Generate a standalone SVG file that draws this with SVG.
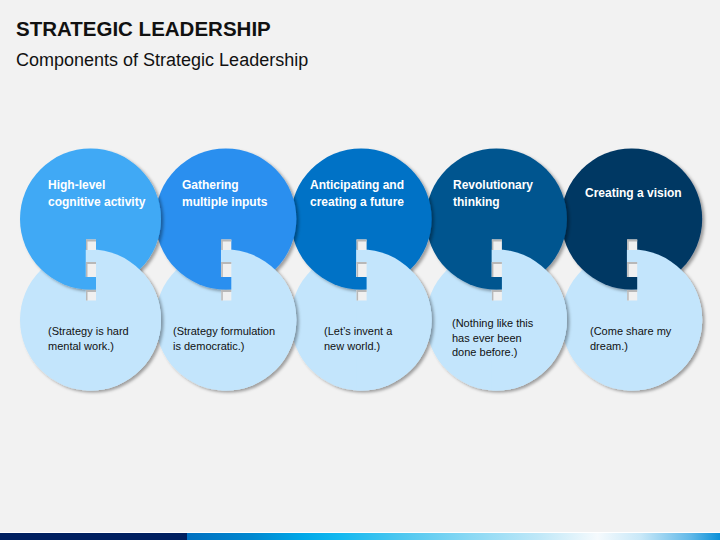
<svg xmlns="http://www.w3.org/2000/svg" width="720" height="540" viewBox="0 0 720 540">
<style>
.title{font-family:"Liberation Sans",Arial,sans-serif;font-weight:bold;font-size:20.5px;fill:#111}
.sub{font-family:"Liberation Sans",Arial,sans-serif;font-size:18px;fill:#111}
.h{font-family:"Liberation Sans",Arial,sans-serif;font-weight:bold;font-size:12px;fill:#ffffff}
.b{font-family:"Liberation Sans",Arial,sans-serif;font-size:11px;fill:#111}
.low{fill:#c3e5fc}
.gap{fill:#f0f0f0}
.gapt{fill:#b8b8b8}
</style>
<defs>
<filter id="sh" x="-20%" y="-20%" width="140%" height="140%">
<feDropShadow dx="2.5" dy="2" stdDeviation="1.8" flood-color="#000" flood-opacity="0.35"/>
</filter>
<clipPath id="rh" clipPathUnits="userSpaceOnUse">
<path d="M-5,240 H80 V400 H-5 V290 H5.5 V277 H-5 Z"/>
</clipPath>
<linearGradient id="bar" x1="0" y1="0" x2="720" y2="0" gradientUnits="userSpaceOnUse">
<stop offset="0.26" stop-color="#0070c0"/>
<stop offset="0.35" stop-color="#0088d0"/>
<stop offset="0.42" stop-color="#00a8e8"/>
<stop offset="0.47" stop-color="#12b8f0"/>
<stop offset="0.56" stop-color="#50c8f0"/>
<stop offset="0.65" stop-color="#88d8f4"/>
<stop offset="0.75" stop-color="#c0e8f8"/>
<stop offset="0.83" stop-color="#f5fafd"/>
<stop offset="0.89" stop-color="#c8e8f8"/>
<stop offset="0.96" stop-color="#60b8e8"/>
<stop offset="1" stop-color="#0a90d8"/>
</linearGradient>
<g id="gaps">
<rect class="gap" x="-4.5" y="239.5" width="10" height="10.5"/>
<rect class="gapt" x="-4.5" y="239.5" width="10" height="2"/>
<rect class="gapt" x="-4.5" y="239.5" width="1.5" height="10.5"/>
<rect class="gap" x="-4.5" y="262" width="10" height="15"/>
<rect class="gapt" x="-4.5" y="262" width="10" height="2"/>
<rect class="gapt" x="-4.5" y="262" width="1.5" height="15"/>
<rect class="gap" x="-4.5" y="290" width="10" height="10.5"/>
<rect class="gapt" x="-4.5" y="290" width="10" height="2"/>
<rect class="gapt" x="-4.5" y="290" width="1.5" height="10.5"/>
</g>
</defs>
<rect width="720" height="540" fill="#f2f2f2"/>
<text class="title" x="16" y="36">STRATEGIC LEADERSHIP</text>
<text class="sub" x="16" y="66">Components of Strategic Leadership</text>

<g id="connectors"></g>

<g id="node5" transform="translate(631.7,0)">
<circle class="low" cx="0" cy="320" r="70.5" filter="url(#sh)"/>
<circle cx="0" cy="219" r="70.5" fill="#003764" filter="url(#sh)"/>
<circle class="low" cx="0" cy="320" r="70.5" clip-path="url(#rh)"/>
<use href="#gaps"/>
</g>
<g id="node4" transform="translate(496.4,0)">
<circle class="low" cx="0" cy="320" r="70.5" filter="url(#sh)"/>
<circle cx="0" cy="219" r="70.5" fill="#00558f" filter="url(#sh)"/>
<circle class="low" cx="0" cy="320" r="70.5" clip-path="url(#rh)"/>
<use href="#gaps"/>
</g>
<g id="node3" transform="translate(361.1,0)">
<circle class="low" cx="0" cy="320" r="70.5" filter="url(#sh)"/>
<circle cx="0" cy="219" r="70.5" fill="#0072c6" filter="url(#sh)"/>
<circle class="low" cx="0" cy="320" r="70.5" clip-path="url(#rh)"/>
<use href="#gaps"/>
</g>
<g id="node2" transform="translate(225.8,0)">
<circle class="low" cx="0" cy="320" r="70.5" filter="url(#sh)"/>
<circle cx="0" cy="219" r="70.5" fill="#2b8fef" filter="url(#sh)"/>
<circle class="low" cx="0" cy="320" r="70.5" clip-path="url(#rh)"/>
<use href="#gaps"/>
</g>
<g id="node1" transform="translate(90.5,0)">
<circle class="low" cx="0" cy="320" r="70.5" filter="url(#sh)"/>
<circle cx="0" cy="219" r="70.5" fill="#3fa9f5" filter="url(#sh)"/>
<circle class="low" cx="0" cy="320" r="70.5" clip-path="url(#rh)"/>
<use href="#gaps"/>
</g>

<g id="labels">
<text class="h" x="48" y="188.5">High-level</text>
<text class="h" x="48" y="205.5">cognitive activity</text>
<text class="b" x="48" y="335">(Strategy is hard</text>
<text class="b" x="48" y="349.5">mental work.)</text>

<text class="h" x="182" y="188.5">Gathering</text>
<text class="h" x="182" y="205.5">multiple inputs</text>
<text class="b" x="173" y="335">(Strategy formulation</text>
<text class="b" x="173" y="349.5">is democratic.)</text>

<text class="h" x="310" y="188.5">Anticipating and</text>
<text class="h" x="310" y="205.5">creating a future</text>
<text class="b" x="324" y="335">(Let’s invent a</text>
<text class="b" x="324" y="349.5">new world.)</text>

<text class="h" x="453" y="188.5">Revolutionary</text>
<text class="h" x="453" y="205.5">thinking</text>
<text class="b" x="452" y="327">(Nothing like this</text>
<text class="b" x="452" y="341.5">has ever been</text>
<text class="b" x="452" y="356">done before.)</text>

<text class="h" x="585" y="197">Creating a vision</text>
<text class="b" x="590" y="335">(Come share my</text>
<text class="b" x="590" y="349.5">dream.)</text>
</g>

<rect x="0" y="532" width="720" height="1" fill="#ffffff"/>
<rect x="0" y="533" width="720" height="7" fill="url(#bar)"/>
<rect x="0" y="533" width="187" height="7" fill="#002060"/>
</svg>
